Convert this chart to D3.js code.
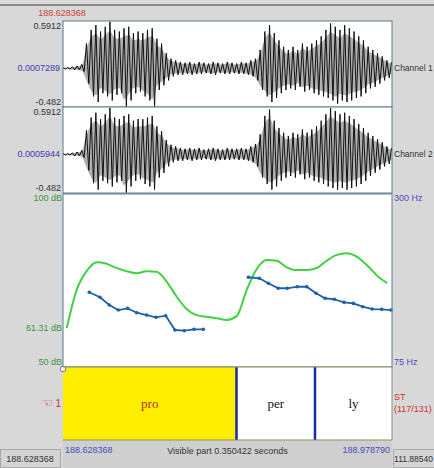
<!DOCTYPE html>
<html>
<head>
<meta charset="utf-8">
<style type="text/css">
  body{
    margin: 0;
    background: #d8d8d8;
  }
  text{
    font-family: 'Liberation Sans', Arial, sans-serif;
    font-size: 9px;
  }
</style>
</head>
<body>
<script src="https://cdn.jsdelivr.net/npm/d3@7"></script>
<script>

// window on the sound (seconds)
var tStart = 188.628368;
var tEnd = 188.978790;
var visible = 0.350422;

// waveform envelope, one pair every 5 ms
var waveStep = 0.005;
var ch1Upper = [0.01,0.01,0.02,0.03,0.05,0.31,0.48,0.54,0.46,0.52,0.58,0.48,0.46,0.50,0.52,0.44,0.46,0.44,0.48,0.50,
  0.37,0.31,0.19,0.12,0.10,0.08,0.07,0.08,0.06,0.08,0.07,0.06,0.08,0.07,0.06,0.08,0.07,0.06,0.08,0.07,
  0.10,0.12,0.23,0.46,0.54,0.44,0.35,0.27,0.23,0.27,0.23,0.31,0.27,0.31,0.35,0.40,0.48,0.56,0.52,0.48,
  0.54,0.50,0.46,0.40,0.35,0.27,0.23,0.19,0.15,0.10,0.08];
var ch1Lower = [-0.01,-0.01,-0.02,-0.02,-0.04,-0.19,-0.35,-0.42,-0.31,-0.35,-0.40,-0.33,-0.31,-0.48,-0.40,-0.31,-0.29,-0.35,-0.40,-0.48,
  -0.27,-0.21,-0.15,-0.10,-0.08,-0.08,-0.07,-0.08,-0.07,-0.07,-0.06,-0.07,-0.08,-0.06,-0.07,-0.07,-0.06,-0.07,-0.07,-0.08,
  -0.10,-0.15,-0.27,-0.35,-0.42,-0.37,-0.31,-0.27,-0.25,-0.27,-0.23,-0.29,-0.27,-0.31,-0.33,-0.35,-0.37,-0.40,-0.44,-0.40,
  -0.42,-0.40,-0.37,-0.35,-0.31,-0.25,-0.23,-0.19,-0.15,-0.12,-0.08];
var ch2Upper = [0.01,0.01,0.02,0.03,0.05,0.30,0.46,0.52,0.44,0.50,0.58,0.46,0.44,0.48,0.50,0.42,0.44,0.44,0.46,0.48,
  0.35,0.29,0.18,0.12,0.10,0.08,0.07,0.08,0.07,0.08,0.06,0.07,0.08,0.07,0.06,0.08,0.07,0.07,0.08,0.07,
  0.10,0.13,0.25,0.48,0.56,0.42,0.33,0.27,0.23,0.27,0.25,0.31,0.27,0.31,0.35,0.42,0.50,0.58,0.54,0.50,
  0.52,0.48,0.44,0.38,0.33,0.27,0.23,0.19,0.15,0.10,0.08];
var ch2Lower = [-0.01,-0.01,-0.02,-0.02,-0.04,-0.20,-0.36,-0.44,-0.33,-0.36,-0.40,-0.35,-0.33,-0.48,-0.40,-0.33,-0.31,-0.37,-0.40,-0.44,
  -0.29,-0.23,-0.15,-0.10,-0.08,-0.08,-0.07,-0.08,-0.07,-0.07,-0.06,-0.07,-0.08,-0.07,-0.07,-0.07,-0.06,-0.07,-0.07,-0.08,
  -0.10,-0.15,-0.29,-0.37,-0.44,-0.40,-0.33,-0.29,-0.27,-0.29,-0.25,-0.31,-0.29,-0.33,-0.35,-0.37,-0.40,-0.42,-0.44,-0.42,
  -0.44,-0.42,-0.40,-0.37,-0.33,-0.27,-0.23,-0.19,-0.15,-0.12,-0.08];

// intensity contour (time offset s, dB)
var intTime = [0.0039,0.0146,0.0259,0.0359,0.0447,0.0554,0.0678,0.0785,0.0891,0.0998,0.1104,0.1211,0.1318,0.1424,0.1531,0.1637,0.1744,
  0.1850,0.1957,0.2063,0.2170,0.2276,0.2383,0.2489,0.2596,0.2702,0.2809,0.2915,0.3022,0.3128,0.3235,0.3358,0.3454];
var intDb = [61.2,72.3,78.0,80.3,80.0,78.8,77.7,77.1,77.7,77.5,74.7,70.3,66.7,65.0,64.5,64.1,63.6,
  64.7,72.3,78.3,80.9,80.7,78.8,78.0,78.0,78.6,80.7,82.4,82.9,81.9,79.5,76.1,74.2];

// pitch contour, two voiced stretches (time offset s, Hz)
var pitch1Time = [0.0280,0.0394,0.0493,0.0589,0.0689,0.0785,0.0891,0.0991,0.1094,0.1193,0.1292,0.1395,0.1494];
var pitch1Hz = [172.2,165.7,155.6,149.1,151.3,145.6,142.6,139.6,141.7,123.1,122.2,124.0,124.0];
var pitch2Time = [0.1974,0.2091,0.2187,0.2293,0.2389,0.2495,0.2596,0.2695,0.2791,0.2890,0.2993,0.3092,0.3192,0.3294,0.3394,0.3493];
var pitch2Hz = [191.7,190.4,183.9,177.4,177.4,179.4,179.4,170.9,164.4,163.1,159.1,157.8,153.4,150.4,150.0,149.1];

// text tier
var syllables = ["pro", "per", "ly"];
var boundaries = [0, 0.1848, 0.2684, visible];

var W = 434, H = 468;
var left = 63, right = 392;

var svg = d3.select("body").append("svg")
  .attr("width", W)
  .attr("height", H);

svg.append("rect").attr("width", W).attr("height", H).attr("fill", "#d8d8d8");
svg.append("line").attr("x1", 0).attr("x2", W).attr("y1", 5).attr("y2", 5)
  .attr("stroke", "#707070").attr("stroke-width", 1.5);

var x = d3.scaleLinear().domain([0, visible]).range([left, right]);

var panels = [
  {top: 21, bottom: 107, up: ch1Upper, lo: ch1Lower, zero: "0.0007289", name: "Channel 1"},
  {top: 107, bottom: 193, up: ch2Upper, lo: ch2Lower, zero: "0.0005944", name: "Channel 2"}
];

svg.append("text").attr("x", 62).attr("y", 16).attr("text-anchor", "middle")
  .attr("fill", "#d04040").text(tStart.toFixed(6));

var clipN = 0;
panels.forEach(function(p) {
  var y = d3.scaleLinear().domain([-0.482, 0.5912]).range([p.bottom, p.top]);

  svg.append("rect").attr("x", left).attr("y", p.top)
    .attr("width", right - left).attr("height", p.bottom - p.top)
    .attr("fill", "white");

  var id = "clip" + (clipN++);
  svg.append("clipPath").attr("id", id).append("rect")
    .attr("x", left).attr("y", p.top).attr("width", right - left).attr("height", p.bottom - p.top);
  var g = svg.append("g").attr("clip-path", "url(#" + id + ")");

  g.append("line").attr("x1", left).attr("x2", right)
    .attr("y1", y(0)).attr("y2", y(0))
    .attr("stroke", "#8aa4c8").attr("stroke-width", 0.8);

  var area = d3.area()
    .x(function(d, i) { return x(i * waveStep); })
    .y0(function(d, i) { return y(p.lo[i] * 0.8); })
    .y1(function(d) { return y(d * 0.8); })
    .curve(d3.curveMonotoneX);
  g.append("path").datum(p.up).attr("d", area)
    .attr("fill", "#a8a8a8").attr("opacity", 0.9);

  // zig-zag between the read upper and lower peaks
  var zig = [];
  p.up.forEach(function(u, i) {
    zig.push([i * waveStep, u]);
    zig.push([i * waveStep + waveStep / 2, p.lo[i]]);
  });
  g.append("path").datum(zig)
    .attr("d", d3.line().x(function(d) { return x(d[0]); }).y(function(d) { return y(d[1]); }))
    .attr("fill", "none").attr("stroke", "#111").attr("stroke-width", 1);

  svg.append("rect").attr("x", left).attr("y", p.top)
    .attr("width", right - left).attr("height", p.bottom - p.top)
    .attr("fill", "none").attr("stroke", "#5a7a8c").attr("stroke-width", 1);

  svg.append("text").attr("x", left - 2).attr("y", p.top + 8).attr("text-anchor", "end")
    .attr("fill", "#333").text("0.5912");
  svg.append("text").attr("x", left - 2).attr("y", p.bottom - 2).attr("text-anchor", "end")
    .attr("fill", "#333").text("-0.482");
  svg.append("text").attr("x", left - 3).attr("y", y(0) + 3).attr("text-anchor", "end")
    .attr("fill", "#3b3bb0").text(p.zero);
  svg.append("text").attr("x", right + 2).attr("y", y(0) + 3)
    .attr("fill", "#333").style("font-size", "8.5px").text(p.name);
});

// pitch / intensity panel
var pTop = 194, pBottom = 367;
var yDb = d3.scaleLinear().domain([50, 100]).range([pBottom, pTop]);
var yHz = d3.scaleLinear().domain([75, 300]).range([pBottom, pTop]);

svg.append("rect").attr("x", left).attr("y", pTop)
  .attr("width", right - left).attr("height", pBottom - pTop).attr("fill", "white");

var intPts = intTime.map(function(t, i) { return [t, intDb[i]]; });
svg.append("path").datum(intPts)
  .attr("d", d3.line().x(function(d) { return x(d[0]); }).y(function(d) { return yDb(d[1]); })
    .curve(d3.curveMonotoneX))
  .attr("fill", "none").attr("stroke", "#3fd23f").attr("stroke-width", 2);

[[pitch1Time, pitch1Hz], [pitch2Time, pitch2Hz]].forEach(function(s) {
  var pts = s[0].map(function(t, i) { return [t, s[1][i]]; });
  svg.append("path").datum(pts)
    .attr("d", d3.line().x(function(d) { return x(d[0]); }).y(function(d) { return yHz(d[1]); }))
    .attr("fill", "none").attr("stroke", "#1f5fa8").attr("stroke-width", 1.8);
  svg.selectAll(null).data(pts).enter().append("circle")
    .attr("cx", function(d) { return x(d[0]); })
    .attr("cy", function(d) { return yHz(d[1]); })
    .attr("r", 1.8).attr("fill", "#1f5fa8");
});

svg.append("rect").attr("x", left).attr("y", pTop)
  .attr("width", right - left).attr("height", pBottom - pTop)
  .attr("fill", "none").attr("stroke", "#5a7a8c").attr("stroke-width", 1);

[[100, "100 dB"], [61.31, "61.31 dB"], [50, "50 dB"]].forEach(function(d) {
  var yy = d[0] === 100 ? yDb(d[0]) + 7 : (d[0] === 50 ? yDb(d[0]) - 2 : yDb(d[0]) + 3);
  svg.append("text").attr("x", left - 1).attr("y", yy).attr("text-anchor", "end")
    .attr("fill", "#3c963c").text(d[1]);
});
svg.append("text").attr("x", right + 2).attr("y", yHz(300) + 7).attr("fill", "#4a4ac0").text("300 Hz");
svg.append("text").attr("x", right + 2).attr("y", yHz(75) - 2).attr("fill", "#4a4ac0").text("75 Hz");

// text tier
var tTop = 367, tBottom = 440;
svg.append("rect").attr("x", left).attr("y", tTop)
  .attr("width", right - left).attr("height", tBottom - tTop).attr("fill", "white");

syllables.forEach(function(s, i) {
  var x0 = x(boundaries[i]), x1 = x(boundaries[i + 1]);
  if (i === 0) {
    svg.append("rect").attr("x", x0).attr("y", tTop)
      .attr("width", x1 - x0).attr("height", tBottom - tTop).attr("fill", "#ffee00");
  }
  svg.append("text").attr("x", (x0 + x1) / 2).attr("y", 408)
    .attr("text-anchor", "middle")
    .style("font-family", "'Liberation Serif', 'Times New Roman', serif")
    .style("font-size", "13px")
    .attr("fill", i === 0 ? "#b03020" : "#111").text(s);
});

boundaries.slice(1, -1).forEach(function(b) {
  svg.append("line").attr("x1", x(b)).attr("x2", x(b)).attr("y1", tTop).attr("y2", tBottom)
    .attr("stroke", "#1a2aa0").attr("stroke-width", 2.5);
});

svg.append("line").attr("x1", left).attr("x2", right).attr("y1", tTop).attr("y2", tTop)
  .attr("stroke", "#8a8a60").attr("stroke-width", 1.2);
svg.append("line").attr("x1", left).attr("x2", right).attr("y1", tBottom).attr("y2", tBottom)
  .attr("stroke", "#8a8a60").attr("stroke-width", 1.2);
svg.append("line").attr("x1", right).attr("x2", right).attr("y1", tTop).attr("y2", tBottom)
  .attr("stroke", "#8a8a8a").attr("stroke-width", 1);
svg.append("circle").attr("cx", left).attr("cy", tTop + 2).attr("r", 2.8)
  .attr("fill", "white").attr("stroke", "#5a6a8a").attr("stroke-width", 0.9);

var tierMark = svg.append("text").attr("x", left - 2).attr("y", 407).attr("text-anchor", "end")
  .attr("fill", "#d03030").style("font-size", "10px");
tierMark.append("tspan").style("font-family", "'DejaVu Sans', sans-serif").style("font-size", "12px").text("\u261C");
tierMark.append("tspan").text(" 1");
svg.append("text").attr("x", right + 2).attr("y", 400).attr("fill", "#d03030").text("ST");
svg.append("text").attr("x", right + 2).attr("y", 412).attr("fill", "#d03030").text("(117/131)");

// bottom time bar
svg.append("rect").attr("x", left).attr("y", tBottom + 1)
  .attr("width", right - left).attr("height", H - tBottom - 1).attr("fill", "#cfcfcf");
svg.append("text").attr("x", left + 2).attr("y", 453).attr("fill", "#4a4ac0").text(tStart.toFixed(6));
svg.append("text").attr("x", right - 2).attr("y", 453).attr("text-anchor", "end")
  .attr("fill", "#4a4ac0").text(tEnd.toFixed(6));
svg.append("text").attr("x", (left + right) / 2).attr("y", 454).attr("text-anchor", "middle")
  .attr("fill", "#333").text("Visible part " + visible.toFixed(6) + " seconds");

svg.append("rect").attr("x", 0.5).attr("y", 449.5).attr("width", 60).attr("height", 18)
  .attr("fill", "#d4d4d4").attr("stroke", "#a8a8a8");
svg.append("text").attr("x", 30).attr("y", 462).attr("text-anchor", "middle")
  .attr("fill", "#333").text(tStart.toFixed(6));
svg.append("rect").attr("x", 393.5).attr("y", 449.5).attr("width", 45).attr("height", 18)
  .attr("fill", "#d4d4d4").attr("stroke", "#a8a8a8");
svg.append("text").attr("x", 433).attr("y", 462).attr("text-anchor", "end")
  .style("font-size", "8.5px").attr("fill", "#333").text("111.88540");

</script>
</body>
</html>
